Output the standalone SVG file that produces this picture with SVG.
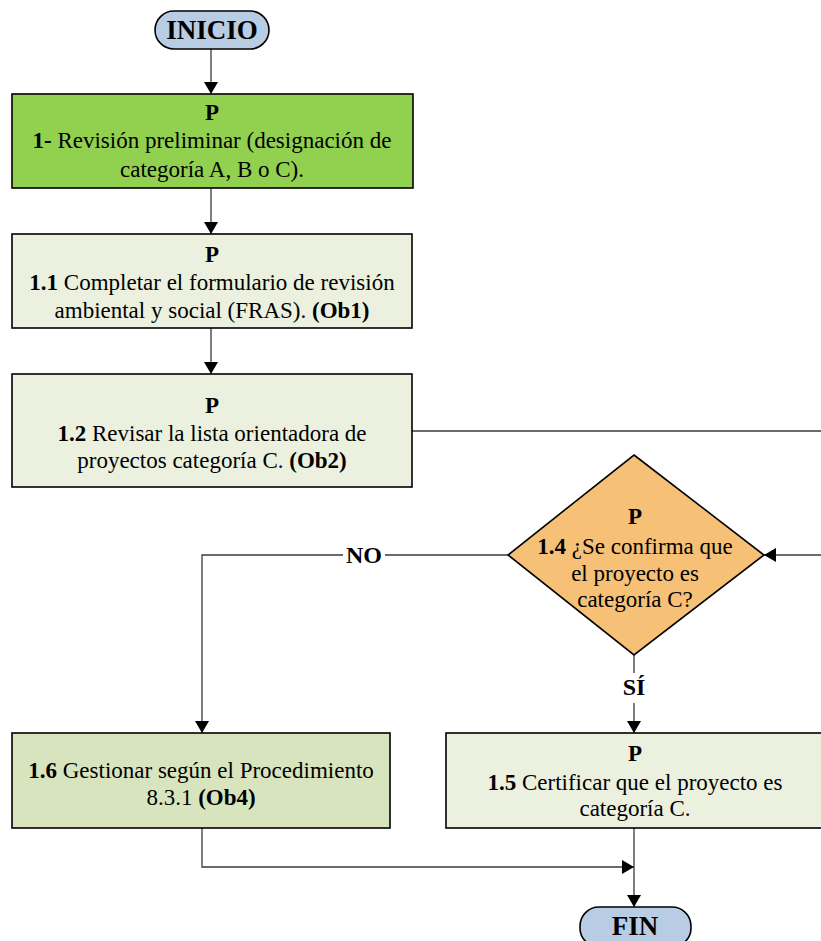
<svg xmlns="http://www.w3.org/2000/svg" width="821" height="941" viewBox="0 0 821 941">
<style>
text{font-family:"Liberation Serif","DejaVu Serif",serif;font-size:23px;fill:#000;text-anchor:middle}
.b{font-weight:bold}
.term{font-size:27px;font-weight:bold}
.box{stroke:#000;stroke-width:1.6}
.c{fill:none;stroke:#3a3a3a;stroke-width:1.3}
.lbl{font-weight:bold;font-size:24px}
</style>
<defs>
<marker id="ah" viewBox="0 0 12 14" refX="12" refY="7" markerWidth="12" markerHeight="14" markerUnits="userSpaceOnUse" orient="auto">
<path d="M0,0 L12,7 L0,14 Z" fill="#000"/>
</marker>
</defs>
<rect width="821" height="941" fill="#fff"/>
<g id="connectors">
<line class="c" x1="211" y1="49" x2="211" y2="94" marker-end="url(#ah)"/>
<line class="c" x1="211" y1="188" x2="211" y2="234" marker-end="url(#ah)"/>
<line class="c" x1="211" y1="328" x2="211" y2="374" marker-end="url(#ah)"/>
<line class="c" x1="412" y1="431" x2="821" y2="431"/>
<line class="c" x1="821" y1="555" x2="764" y2="555" marker-end="url(#ah)"/>
<polyline class="c" points="508,555 202,555 202,733" marker-end="url(#ah)"/>
<rect x="343" y="543" width="42" height="24" fill="#fff"/>
<text class="lbl" x="364" y="563">NO</text>
<line class="c" x1="634" y1="655" x2="634" y2="733" marker-end="url(#ah)"/>
<rect x="620" y="673" width="28" height="30" fill="#fff"/>
<text class="lbl" x="634" y="695">SÍ</text>
<polyline class="c" points="202,828 202,867 634,867" marker-end="url(#ah)"/>
<line class="c" x1="634" y1="828" x2="634" y2="907" marker-end="url(#ah)"/>
</g>
<g id="inicio">
<rect class="box" x="155" y="11" width="114" height="38" rx="19" fill="#b8cce4"/>
<text class="term" x="212" y="39">INICIO</text>
</g>
<g id="n1">
<rect class="box" x="12" y="94" width="401" height="94" fill="#92d050"/>
<text class="b" x="212" y="120">P</text>
<text x="212" y="148"><tspan class="b">1-</tspan> Revisión preliminar (designación de</text>
<text x="212" y="177">categoría A, B o C).</text>
</g>
<g id="n1_1">
<rect class="box" x="12" y="234" width="400" height="94" fill="#ebf1de"/>
<text class="b" x="212" y="262">P</text>
<text x="212" y="290"><tspan class="b">1.1</tspan> Completar el formulario de revisión</text>
<text x="212" y="318">ambiental y social (FRAS). <tspan class="b">(Ob1)</tspan></text>
</g>
<g id="n1_2">
<rect class="box" x="12" y="374" width="400" height="113" fill="#ebf1de"/>
<text class="b" x="212" y="413">P</text>
<text x="212" y="441"><tspan class="b">1.2</tspan> Revisar la lista orientadora de</text>
<text x="212" y="468">proyectos categoría C. <tspan class="b">(Ob2)</tspan></text>
</g>
<g id="n1_4">
<polygon class="box" points="634,455 764,555 634,655 508,555" fill="#f6c177"/>
<text class="b" x="635" y="524">P</text>
<text x="635" y="554"><tspan class="b">1.4</tspan> ¿Se confirma que</text>
<text x="635" y="581">el proyecto es</text>
<text x="635" y="607">categoría C?</text>
</g>
<g id="n1_6">
<rect class="box" x="12" y="733" width="378" height="95" fill="#d7e4bd"/>
<text x="201" y="778"><tspan class="b">1.6</tspan> Gestionar según el Procedimiento</text>
<text x="201" y="805">8.3.1 <tspan class="b">(Ob4)</tspan></text>
</g>
<g id="n1_5">
<rect class="box" x="446" y="733" width="380" height="95" fill="#ebf1de"/>
<text class="b" x="635" y="761">P</text>
<text x="635" y="790"><tspan class="b">1.5</tspan> Certificar que el proyecto es</text>
<text x="635" y="816">categoría C.</text>
</g>
<g id="fin">
<rect class="box" x="580" y="907" width="111" height="40" rx="19" fill="#b8cce4"/>
<text class="term" x="635" y="935">FIN</text>
</g>
</svg>
